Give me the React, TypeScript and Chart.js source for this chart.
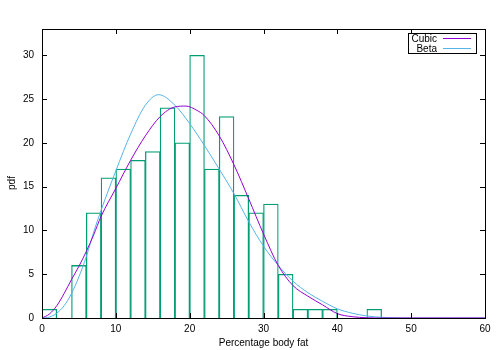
import React, { useEffect, useRef } from "react";
import { Chart, registerables } from "chart.js";

Chart.register(...registerables);

// Histogram: bins of width 2 starting at 0 (centres)
const binCenters = [1, 3, 5, 7, 9, 11, 13, 15, 17, 19, 21, 23, 25, 27, 29, 31, 33, 35, 37, 39, 41, 43, 45];
const binCounts = [1, 0, 6, 12, 16, 17, 18, 19, 24, 20, 30, 17, 23, 14, 12, 13, 5, 1, 1, 1, 0, 0, 1];

// Fitted curves
const cubicX = [0, 1, 2, 3, 4, 5, 6, 7, 8, 10, 12, 14, 16, 18, 19.5, 21, 22, 24, 26, 28, 30, 32, 34, 36, 38, 40, 42, 44, 46, 50, 55, 60];
const cubicY = [0, 0.45, 1.4, 2.8, 4.4, 5.9, 7.6, 9.5, 11.6, 14.8, 18.0, 20.8, 23.0, 24.1, 24.2, 23.7, 23.1, 20.8, 17.5, 13.6, 9.6, 6.0, 3.7, 2.5, 1.5, 0.5, 0.15, 0.03, 0, 0, 0, 0];

const betaX = [0, 1, 2, 3, 4, 5, 6, 7, 8, 10, 12, 14, 15.8, 18, 20, 22, 24, 26, 28, 30, 32, 34, 36, 38, 40, 42, 44, 46, 48, 50, 55, 60];
const betaY = [0, 0.1, 0.55, 1.4, 2.8, 4.7, 7.0, 9.8, 12.3, 16.8, 21.0, 24.3, 25.5, 24.3, 22.2, 19.7, 17.0, 14.2, 11.0, 8.2, 6.0, 4.2, 2.9, 1.9, 1.05, 0.55, 0.23, 0.08, 0.02, 0, 0, 0];

const xTickValues = [0, 10, 20, 30, 40, 50, 60];
const yTickValues = [0, 5, 10, 15, 20, 25, 30];

const seriesNames = ["Cubic", "Beta"];
const xTitle = "Percentage body fat";
const yTitle = "pdf";

const HIST_COLOR = "#009e73";
const CUBIC_COLOR = "#9400d3";
const BETA_COLOR = "#56b4e9";
const FONT = "10px 'Liberation Sans', Arial, sans-serif";

const gnuplotFrame = {
  id: "gnuplotFrame",
  afterDraw(chart: any) {
    const { ctx, chartArea } = chart;
    const { left, right, top, bottom } = chartArea;
    const xs = chart.scales.x;
    const ys = chart.scales.y;
    ctx.save();
    ctx.strokeStyle = "#000";
    ctx.lineWidth = 1;
    ctx.strokeRect(Math.round(left) + 0.5, Math.round(top) + 0.5, Math.round(right - left), Math.round(bottom - top));
    const tl = 5;
    ctx.beginPath();
    for (const v of xTickValues) {
      const px = Math.round(xs.getPixelForValue(v)) + 0.5;
      ctx.moveTo(px, bottom);
      ctx.lineTo(px, bottom - tl);
      ctx.moveTo(px, top);
      ctx.lineTo(px, top + tl);
    }
    for (const v of yTickValues) {
      const py = Math.round(ys.getPixelForValue(v)) + 0.5;
      ctx.moveTo(left, py);
      ctx.lineTo(left + tl, py);
      ctx.moveTo(right, py);
      ctx.lineTo(right - tl, py);
    }
    ctx.stroke();

    // legend
    const bx = 408.5, by = 33.5, bw = 68, bh = 20;
    ctx.strokeRect(bx, by, bw, bh);
    ctx.font = FONT;
    ctx.fillStyle = "#000";
    ctx.textAlign = "right";
    ctx.textBaseline = "middle";
    const colors = [CUBIC_COLOR, BETA_COLOR];
    seriesNames.forEach((name, i) => {
      const y = 38.5 + i * 10;
      ctx.fillText(name, 437, y + 0.5);
      ctx.strokeStyle = colors[i];
      ctx.beginPath();
      ctx.moveTo(443, y);
      ctx.lineTo(471, y);
      ctx.stroke();
    });

    // axis titles
    ctx.fillStyle = "#000";
    ctx.textAlign = "center";
    ctx.textBaseline = "middle";
    ctx.fillText(xTitle, (left + right) / 2, 343);
    ctx.save();
    ctx.translate(12, 183);
    ctx.rotate(-Math.PI / 2);
    ctx.fillText(yTitle, 0, 0);
    ctx.restore();
    ctx.restore();
  },
};

export default function App() {
  const canvasRef = useRef<HTMLCanvasElement | null>(null);

  useEffect(() => {
    if (!canvasRef.current) return;
    Chart.defaults.font.family = "'Liberation Sans', Arial, sans-serif";
    Chart.defaults.font.size = 10;
    Chart.defaults.color = "#000";

    const chart = new Chart(canvasRef.current, {
      type: "bar",
      data: {
        datasets: [
          {
            type: "line",
            label: seriesNames[0],
            data: cubicX.map((x, i) => ({ x, y: cubicY[i] })),
            borderColor: CUBIC_COLOR,
            borderWidth: 1,
            pointRadius: 0,
            fill: false,
            cubicInterpolationMode: "monotone",
            order: 1,
          } as any,
          {
            type: "line",
            label: seriesNames[1],
            data: betaX.map((x, i) => ({ x, y: betaY[i] })),
            borderColor: BETA_COLOR,
            borderWidth: 1,
            pointRadius: 0,
            fill: false,
            cubicInterpolationMode: "monotone",
            order: 2,
          } as any,
          {
            type: "bar",
            label: "hist",
            data: binCenters.map((x, i) => ({ x, y: binCounts[i] })),
            borderColor: HIST_COLOR,
            backgroundColor: "rgba(0,0,0,0)",
            borderWidth: 0.6,
            barPercentage: 1,
            categoryPercentage: 1,
            order: 3,
          } as any,
        ],
      },
      options: {
        animation: false,
        responsive: true,
        maintainAspectRatio: false,
        layout: { padding: { top: 29, right: 15, left: 0, bottom: 0 } },
        plugins: { legend: { display: false }, tooltip: { enabled: false } },
        scales: {
          x: {
            type: "linear",
            min: 0,
            max: 60,
            offset: false,
            grid: { display: false, drawTicks: false, offset: false },
            border: { display: false },
            ticks: { stepSize: 10, padding: 5, maxRotation: 0 },
            afterBuildTicks: (s: any) => {
              s.ticks = xTickValues.map((v) => ({ value: v }));
            },
            afterFit: (s: any) => {
              s.height = 32;
            },
          },
          y: {
            type: "linear",
            min: 0,
            max: 33,
            grid: { display: false, drawTicks: false },
            border: { display: false },
            ticks: { stepSize: 5, padding: 8 },
            afterBuildTicks: (s: any) => {
              s.ticks = yTickValues.map((v) => ({ value: v }));
            },
            afterFit: (s: any) => {
              s.width = 42;
            },
          },
        },
      },
      plugins: [gnuplotFrame],
    });
    return () => chart.destroy();
  }, []);

  return (
    <div style={{ position: "absolute", left: 0, top: 0, width: 500, height: 350, background: "#fff" }}>
      <style>{`body{margin:0;}`}</style>
      <canvas ref={canvasRef} />
    </div>
  );
}
